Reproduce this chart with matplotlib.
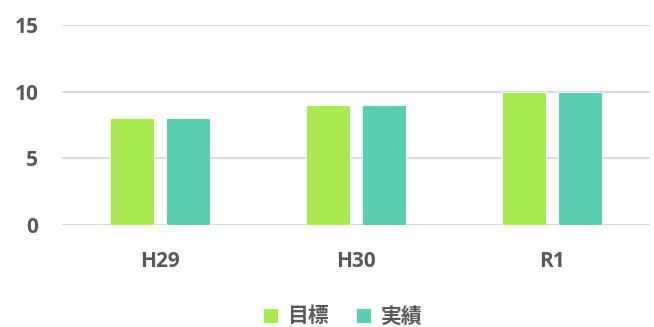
import numpy as np
import matplotlib.pyplot as plt

years = ["H29", "H30", "R1"]
target = [8, 9, 10]
actual = [8, 9, 10]
series_names = ["目標", "実績"]
y_ticks = [0, 5, 10, 15]

green = "#A9EA53"
teal = "#5CCFB1"
text_color = "#595959"
grid_color = "#D9D9D9"

plt.rcParams["font.family"] = ["Open Sans", "Noto Sans CJK JP", "DejaVu Sans"]

fig = plt.figure(figsize=(6.54, 3.27), dpi=100)
ax = fig.add_axes([62 / 654, 102 / 327, 588 / 654, 200 / 327])

x = np.arange(len(years))
w = 0.224
gap = 0.061
off = (w + gap) / 2

ax.bar(x - off, target, width=w, color=green, edgecolor="white", linewidth=0.6,
       label=series_names[0], zorder=3)
ax.bar(x + off, actual, width=w, color=teal, edgecolor="white", linewidth=0.6,
       label=series_names[1], zorder=3)

ax.set_xlim(-0.5, len(years) - 0.5)
ax.set_ylim(0, 15)
ax.set_yticks(y_ticks)
ax.set_xticks(x)
ax.set_xticklabels(years)

for s in ax.spines.values():
    s.set_visible(False)
ax.grid(axis="y", color=grid_color, linewidth=1.5, zorder=0)
ax.tick_params(length=0, labelsize=15, labelcolor=text_color)
ax.tick_params(axis="y", pad=17)
ax.tick_params(axis="x", pad=19)
for lab in ax.get_xticklabels() + ax.get_yticklabels():
    lab.set_fontweight("bold")

leg = fig.legend(loc="center", bbox_to_anchor=(0.524, 1 - 316 / 327), ncol=2, frameon=False,
                 handlelength=0.7, handleheight=0.7, handletextpad=0.45, columnspacing=1.3,
                 prop={"family": ["Noto Sans CJK JP", "DejaVu Sans"], "size": 15, "weight": "bold"})
for t in leg.get_texts():
    t.set_color(text_color)

fig.savefig("out.png", dpi=100)
